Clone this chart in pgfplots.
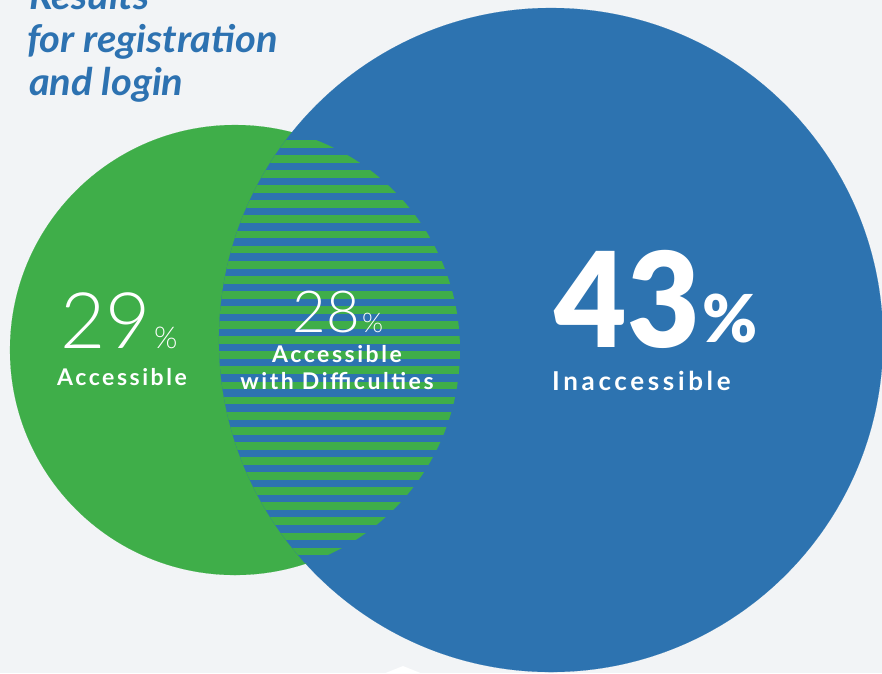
\documentclass[border=0pt]{standalone}
\usepackage{pgfplots}
\pgfplotsset{compat=1.18}
\usepackage{fontspec}
\usetikzlibrary{plotmarks}
\setmainfont{Lato}
\newfontfamily\titlefont{Lato Bold Italic}
\newfontfamily\lightfont{Lato Light}
\newfontfamily\labelfont{Lato Bold}[LetterSpace=11]
\newfontfamily\biglabelfont{Lato Bold}[LetterSpace=14]
\newfontfamily\blackfont{Lato Black}
\definecolor{bg}{HTML}{F2F4F6}
\definecolor{cgreen}{HTML}{3FAE49}
\definecolor{cblue}{HTML}{2D73B0}
\definecolor{ctitle}{HTML}{2D72B1}

% green stripes of the overlap (y of stripe centre, in picture pixels)
\pgfplotstableread{
x y
340 143.8
340 158.9
340 174.0
340 189.1
340 204.2
340 219.3
340 234.4
340 249.5
340 264.6
340 279.7
340 294.8
340 309.9
340 325.0
340 340.1
340 355.2
340 370.3
340 385.4
340 400.5
340 415.6
340 430.7
340 445.8
340 460.9
340 476.0
340 491.1
340 506.2
340 521.3
340 536.4
340 551.5
340 566.6
340 581.7
}\stripes

\begin{document}
\begin{tikzpicture}
\useasboundingbox (0,0) rectangle (882pt,673pt);
\clip (0,0) rectangle (882pt,673pt);
\fill[bg] (0,0) rectangle (882pt,673pt);
\begin{axis}[
  at={(0,0)}, anchor=south west,
  scale only axis, width=882pt, height=673pt,
  xmin=0, xmax=882, ymin=0, ymax=673, y dir=reverse,
  hide axis, clip=true, clip marker paths=true,
]
% Accessible (green circle)
\addplot[only marks, mark=*, mark size=225pt, mark options={draw=cgreen, fill=cgreen, line width=0.1pt}] coordinates {(235,350)};
% Inaccessible (blue circle)
\addplot[only marks, mark=*, mark size=332pt, mark options={draw=cblue, fill=cblue, line width=0.1pt}] coordinates {(551,340)};
% Accessible with difficulties (striped overlap)
\begin{scope}
\clip (axis cs:235,350) circle[radius=225pt];
\clip (axis cs:551,340) circle[radius=332pt];
\addplot[only marks, mark=-, mark size=140pt, mark options={draw=cgreen, line width=7.8pt}] table[x=x,y=y] {\stripes};
\end{scope}
% small white pointer at the bottom
\addplot[fill=white, draw=none] coordinates {(383,674) (403,666) (423,674)} -- cycle;

% title
\node[anchor=base west, inner sep=0, text=ctitle] at (axis cs:29,9) {\titlefont\fontsize{38}{44}\selectfont\scalebox{1.05}[1]{Results}};
\node[anchor=base west, inner sep=0, text=ctitle] at (axis cs:27,52) {\titlefont\fontsize{38}{44}\selectfont\scalebox{1.05}[1]{for registration}};
\node[anchor=base west, inner sep=0, text=ctitle] at (axis cs:29,95) {\titlefont\fontsize{38}{44}\selectfont\scalebox{1.05}[1]{and login}};

% 29%
\node[anchor=base east, inner sep=0, text=white] at (axis cs:151,348) {\lightfont\fontsize{78}{78}\selectfont 29};
\node[anchor=base west, inner sep=0, text=white] at (axis cs:154,348) {\lightfont\fontsize{30}{30}\selectfont \%};
\node[anchor=base, inner sep=0, text=white] at (axis cs:122,385) {\labelfont\fontsize{23}{23}\selectfont Accessible};

% 28%
\node[anchor=base east, inner sep=0, text=white] at (axis cs:360,332) {\lightfont\fontsize{58}{58}\selectfont 28};
\node[anchor=base west, inner sep=0, text=white] at (axis cs:362,332) {\lightfont\fontsize{27}{27}\selectfont \%};
\node[anchor=base, inner sep=0, text=white] at (axis cs:337,362) {\labelfont\fontsize{23}{23}\selectfont Accessible};
\node[anchor=base, inner sep=0, text=white] at (axis cs:337,389) {\labelfont\fontsize{23}{23}\selectfont with Difficulties};

% 43%
\node[anchor=base east, inner sep=0, text=white] at (axis cs:700,347) {\blackfont\fontsize{132}{132}\selectfont\scalebox{0.95}[1]{43}};
\node[anchor=base west, inner sep=0, text=white] at (axis cs:702,342) {\blackfont\fontsize{66}{66}\selectfont \%};
\node[anchor=base west, inner sep=0, text=white] at (axis cs:552,390) {\biglabelfont\fontsize{26}{26}\selectfont Inaccessible};
\end{axis}
\end{tikzpicture}
\end{document}
